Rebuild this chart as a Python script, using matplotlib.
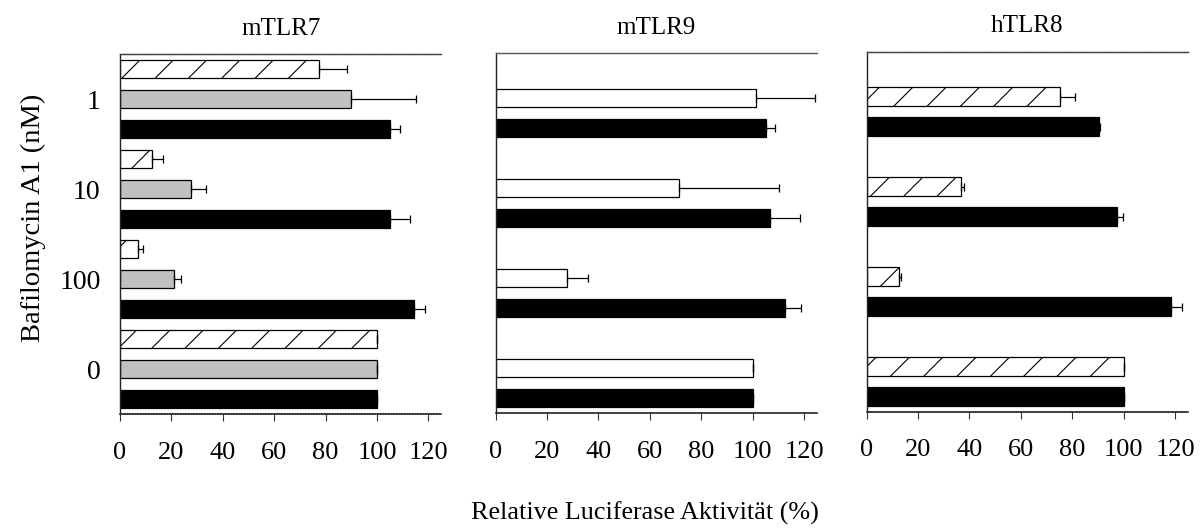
#!/usr/bin/env python

#===========================================================================
#
# Bafilomycin A1 dose series - relative luciferase activity per receptor
#
#===========================================================================

import numpy as np
import matplotlib
matplotlib.use('Agg')
import matplotlib.pyplot as plt

# doses, bottom to top within each panel

doses = ['0', '100', '10', '1']

# mTLR7 panel

tlr7Black = [100, 114.5, 105.0, 105.2]
tlr7BlackErr = [0, 4.3, 8.0, 3.8]
tlr7Gray = [100, 20.8, 27.7, 89.9]
tlr7GrayErr = [0, 2.8, 5.8, 25.1]
tlr7Hatch = [100, 7.1, 12.3, 77.5]
tlr7HatchErr = [0, 1.7, 4.6, 10.8]

# mTLR9 panel

tlr9Black = [100, 112.6, 106.9, 105.2]
tlr9BlackErr = [0, 6.1, 11.6, 3.6]
tlr9White = [100, 27.6, 71.4, 101.2]
tlr9WhiteErr = [0, 8.4, 38.8, 23.0]

# hTLR8 panel

tlr8Black = [100, 118.4, 97.6, 90.4]
tlr8BlackErr = [0, 4.4, 2.0, 0.5]
tlr8Hatch = [100, 12.5, 36.7, 75.4]
tlr8HatchErr = [0, 0.9, 1.3, 5.5]

titles = ['mTLR7', 'mTLR9', 'hTLR8']
xTicks = [0, 20, 40, 60, 80, 100, 120]

########################################################################
# one series of horizontal bars, slot k inside each 3-slot group

def drawBars(ax, vals, errs, slot, face, hatch=None):

    pos = np.arange(len(vals)) * 3 + slot
    ax.barh(pos, vals, height=0.62, color=face, edgecolor='black',
            linewidth=0.9, hatch=hatch, zorder=2)
    ax.errorbar(vals, pos, xerr=[np.zeros(len(errs)), errs],
                fmt='none', ecolor='black', elinewidth=0.9,
                capsize=3, capthick=0.9, zorder=3)

########################################################################
# Plot

def doPlot():

    plt.rcParams['font.family'] = ['Liberation Serif', 'DejaVu Serif']
    plt.rcParams['hatch.linewidth'] = 0.8

    fig = plt.figure(figsize=(12.03, 5.28), dpi=100)

    lefts = [0.0998, 0.4120, 0.7204]
    bottoms = [0.2159, 0.2178, 0.2203]
    axes = []
    for ii in range(3):
        ax = fig.add_axes([lefts[ii], bottoms[ii], 0.2670, 0.6818])
        axes.append(ax)

    drawBars(axes[0], tlr7Black, tlr7BlackErr, 0, 'black')
    drawBars(axes[0], tlr7Gray, tlr7GrayErr, 1, '#c0c0c0')
    drawBars(axes[0], tlr7Hatch, tlr7HatchErr, 2, 'white', '/')

    drawBars(axes[1], tlr9Black, tlr9BlackErr, 0, 'black')
    drawBars(axes[1], tlr9White, tlr9WhiteErr, 1, 'white')

    drawBars(axes[2], tlr8Black, tlr8BlackErr, 0, 'black')
    drawBars(axes[2], tlr8Hatch, tlr8HatchErr, 1, 'white', '/')

    for ii, ax in enumerate(axes):
        ax.set_xlim(0, 125)
        ax.set_ylim(-0.5, 11.5)
        ax.set_xticks(xTicks)
        ax.set_xticklabels([str(t) for t in xTicks], fontsize=19)
        ax.tick_params(axis='x', direction='out', length=5, width=0.8,
                       pad=15, color='#333333')
        ax.set_title(titles[ii], fontsize=18, pad=14)
        ax.spines['right'].set_visible(False)
        ax.spines['left'].set_color('#222222')
        ax.spines['left'].set_linewidth(1.0)
        if ii == 1:
            ax.spines['top'].set_color('#555555')
            ax.spines['bottom'].set_color('#222222')
        else:
            ax.spines['top'].set_linestyle((0, (1, 0.6)))
            ax.spines['top'].set_color('#444444')
            ax.spines['bottom'].set_linestyle((0, (1, 0.6)))
            ax.spines['bottom'].set_color('#333333')
        ax.spines['top'].set_linewidth(1.0)
        ax.spines['bottom'].set_linewidth(1.2)
        if ii == 0:
            ax.set_yticks(np.arange(len(doses)) * 3 + 1)
            ax.set_yticklabels(doses, fontsize=20)
            ax.tick_params(axis='y', length=0, pad=14)
        else:
            ax.set_yticks([])

    fig.text(0.0275, 0.588, 'Bafilomycin A1 (nM)', rotation=90,
             ha='center', va='center', fontsize=20.5)
    fig.text(0.536, 0.005, 'Relative Luciferase Aktivit\u00e4t (%)',
             ha='center', va='bottom', fontsize=18.8)

    fig.savefig('out.png', dpi=100)

########################################################################
# Run - entry point

if __name__ == "__main__":
    doPlot()
